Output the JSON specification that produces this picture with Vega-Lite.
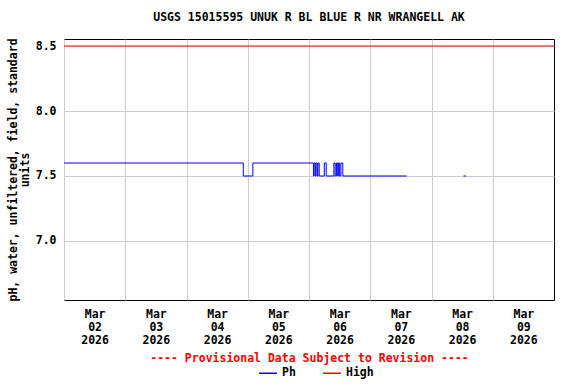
{
  "$schema": "https://vega.github.io/schema/vega-lite/v6.json",
  "width": 490,
  "height": 261,
  "autosize": {"type": "none"},
  "padding": {"left": 64, "top": 39, "right": 22, "bottom": 84},
  "background": "white",
  "title": {
    "text": "USGS 15015595 UNUK R BL BLUE R NR WRANGELL AK",
    "anchor": "middle",
    "offset": 14,
    "font": "DejaVu Sans Mono",
    "fontSize": 11.5,
    "fontWeight": "bold",
    "color": "black"
  },
  "datasets": {
    "ph": [
      {"t": "2026-03-02T00:00:00Z", "v": 7.6, "series": "Ph", "seg": 1},
      {"t": "2026-03-04T22:15:00Z", "v": 7.5, "series": "Ph", "seg": 1},
      {"t": "2026-03-05T02:00:00Z", "v": 7.6, "series": "Ph", "seg": 1},
      {"t": "2026-03-06T01:45:00Z", "v": 7.5, "series": "Ph", "seg": 1},
      {"t": "2026-03-06T02:00:00Z", "v": 7.6, "series": "Ph", "seg": 1},
      {"t": "2026-03-06T02:30:00Z", "v": 7.5, "series": "Ph", "seg": 1},
      {"t": "2026-03-06T02:45:00Z", "v": 7.6, "series": "Ph", "seg": 1},
      {"t": "2026-03-06T03:15:00Z", "v": 7.5, "series": "Ph", "seg": 1},
      {"t": "2026-03-06T03:30:00Z", "v": 7.6, "series": "Ph", "seg": 1},
      {"t": "2026-03-06T04:00:00Z", "v": 7.5, "series": "Ph", "seg": 1},
      {"t": "2026-03-06T06:00:00Z", "v": 7.6, "series": "Ph", "seg": 1},
      {"t": "2026-03-06T06:45:00Z", "v": 7.5, "series": "Ph", "seg": 1},
      {"t": "2026-03-06T09:45:00Z", "v": 7.6, "series": "Ph", "seg": 1},
      {"t": "2026-03-06T10:15:00Z", "v": 7.5, "series": "Ph", "seg": 1},
      {"t": "2026-03-06T10:45:00Z", "v": 7.6, "series": "Ph", "seg": 1},
      {"t": "2026-03-06T11:15:00Z", "v": 7.5, "series": "Ph", "seg": 1},
      {"t": "2026-03-06T11:30:00Z", "v": 7.6, "series": "Ph", "seg": 1},
      {"t": "2026-03-06T12:00:00Z", "v": 7.5, "series": "Ph", "seg": 1},
      {"t": "2026-03-06T12:30:00Z", "v": 7.6, "series": "Ph", "seg": 1},
      {"t": "2026-03-06T13:15:00Z", "v": 7.5, "series": "Ph", "seg": 1},
      {"t": "2026-03-07T14:15:00Z", "v": 7.5, "series": "Ph", "seg": 1},
      {"t": "2026-03-08T12:30:00Z", "v": 7.5, "series": "Ph", "seg": 2},
      {"t": "2026-03-08T13:30:00Z", "v": 7.5, "series": "Ph", "seg": 2}
    ],
    "high": [
      {"v": 8.5, "series": "High"}
    ]
  },
  "layer": [
    {
      "data": {"name": "ph"},
      "mark": {"type": "line", "interpolate": "step-after", "strokeWidth": 1},
      "encoding": {
        "x": {
          "field": "t",
          "type": "temporal",
          "scale": {
            "type": "utc",
            "domain": [
              {"year": 2026, "month": 3, "date": 2, "utc": true},
              {"year": 2026, "month": 3, "date": 10, "utc": true}
            ]
          },
          "axis": {
            "values": [
              {"year": 2026, "month": 3, "date": 2, "utc": true},
              {"year": 2026, "month": 3, "date": 3, "utc": true},
              {"year": 2026, "month": 3, "date": 4, "utc": true},
              {"year": 2026, "month": 3, "date": 5, "utc": true},
              {"year": 2026, "month": 3, "date": 6, "utc": true},
              {"year": 2026, "month": 3, "date": 7, "utc": true},
              {"year": 2026, "month": 3, "date": 8, "utc": true},
              {"year": 2026, "month": 3, "date": 9, "utc": true}
            ],
            "labelExpr": "[utcFormat(datum.value, '%b'), utcFormat(datum.value, '%d'), utcFormat(datum.value, '%Y')]",
            "labelOffset": 30.6,
            "labelAlign": "center",
            "labelBaseline": "top",
            "labelPadding": 8,
            "labelLineHeight": 13,
            "labelFlush": false,
            "labelOverlap": false,
            "labelBound": false,
            "ticks": false,
            "domain": false,
            "grid": true,
            "title": "---- Provisional Data Subject to Revision ----",
            "titleColor": "red",
            "titleX": 245,
            "titleY": 58,
            "titleAlign": "center",
            "titleBaseline": "middle"
          }
        },
        "y": {
          "field": "v",
          "type": "quantitative",
          "scale": {"domain": [6.546, 8.554], "nice": false, "zero": false},
          "axis": {
            "values": [7.0, 7.5, 8.0, 8.5],
            "format": ".1f",
            "ticks": false,
            "domain": false,
            "grid": true,
            "labelPadding": 8,
            "title": ["pH, water, unfiltered, field, standard", "units"],
            "titleX": -57,
            "titleY": 130.5,
            "titleAngle": -90,
            "titleAlign": "center",
            "titleBaseline": "top",
            "titleLineHeight": 12
          }
        },
        "detail": {"field": "seg", "type": "nominal"},
        "color": {
          "field": "series",
          "type": "nominal",
          "scale": {"domain": ["Ph", "High"], "range": ["#0000ff", "#ff0000"]},
          "legend": {
            "title": null,
            "orient": "none",
            "direction": "horizontal",
            "legendX": 194,
            "legendY": 324,
            "symbolSize": 324,
            "columnPadding": 24,
            "labelOffset": 4
          }
        }
      }
    },
    {
      "data": {"name": "high"},
      "mark": {"type": "rule", "strokeWidth": 1},
      "encoding": {
        "y": {"field": "v", "type": "quantitative"},
        "color": {"field": "series", "type": "nominal"}
      }
    }
  ],
  "config": {
    "view": {"stroke": "black", "strokeWidth": 1},
    "axis": {
      "labelFont": "DejaVu Sans Mono",
      "labelFontSize": 11.5,
      "labelFontWeight": "bold",
      "labelColor": "black",
      "titleFont": "DejaVu Sans Mono",
      "titleFontSize": 11.5,
      "titleFontWeight": "bold",
      "titleColor": "black",
      "gridColor": "#cccccc",
      "gridWidth": 1,
      "gridOpacity": 1
    },
    "legend": {
      "labelFont": "DejaVu Sans Mono",
      "labelFontSize": 11.5,
      "labelFontWeight": "bold",
      "labelColor": "black"
    }
  }
}
